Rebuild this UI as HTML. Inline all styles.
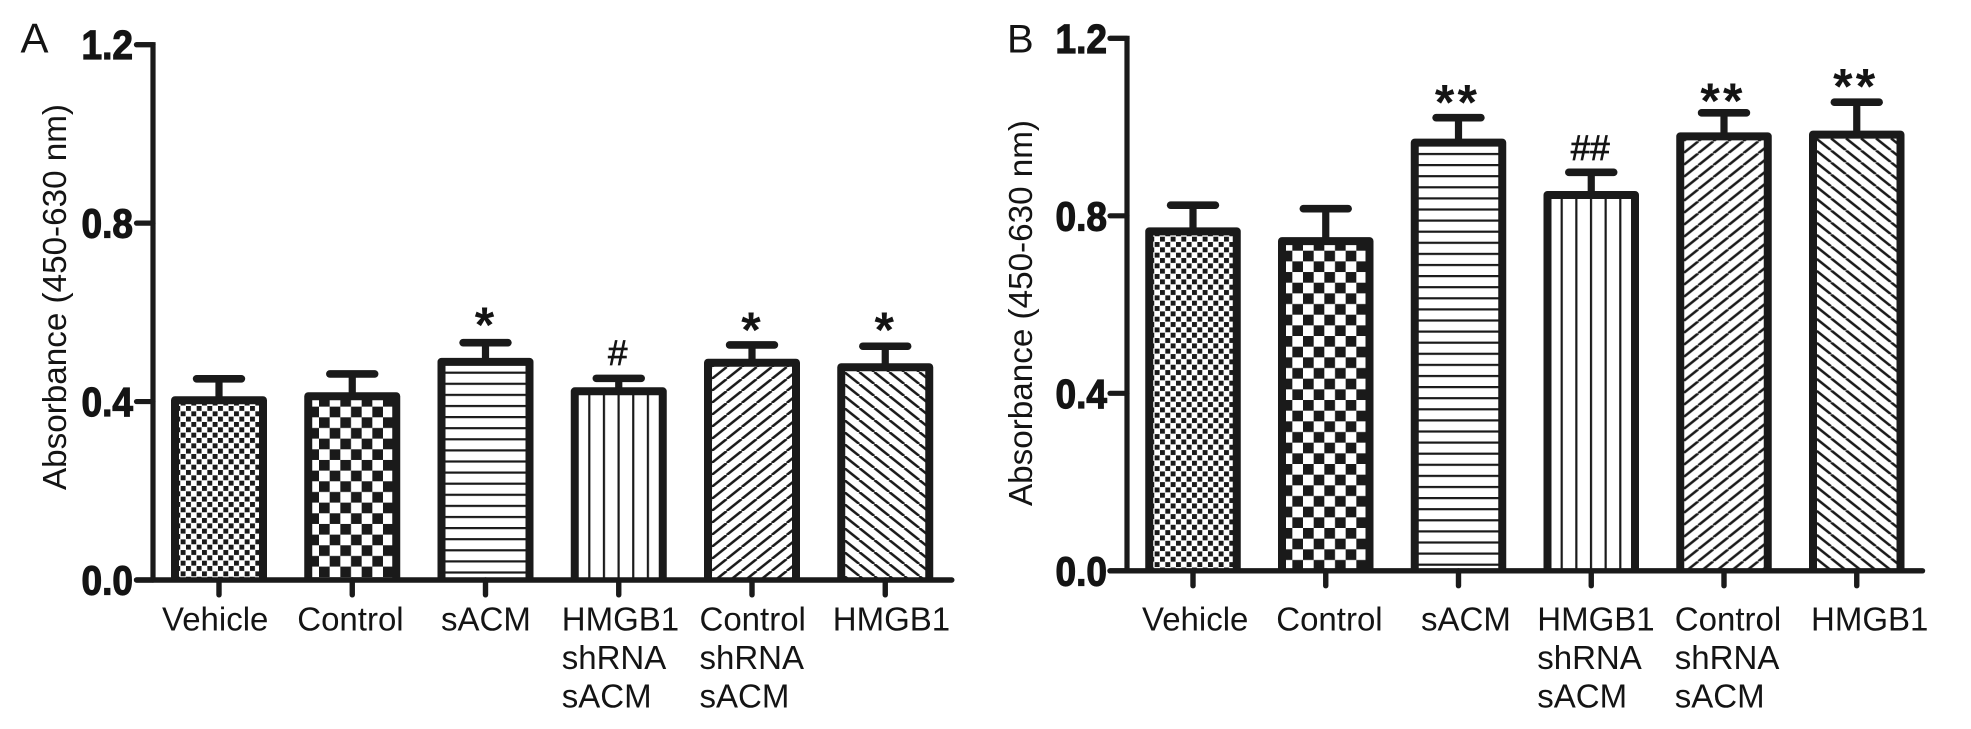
<!DOCTYPE html>
<html lang="en">
<head>
<meta charset="utf-8">
<title>Absorbance bar charts</title>
<style>
  html, body { margin: 0; padding: 0; background: #fff; }
  svg { display: block; font-family: "Liberation Sans", Arial, sans-serif; }
  text { fill: #141414; }
</style>
</head>
<body>
<svg id="figure" xmlns="http://www.w3.org/2000/svg" width="1971" height="729" viewBox="0 0 1971 729">
  <rect x="0" y="0" width="1971" height="729" fill="#fff"/>
  <defs id="pattern-defs"></defs>
  <text x="20.5" y="52.5" font-size="42">A</text>
  <text x="1007" y="52.5" font-size="40">B</text>
  <text transform="translate(66 490) rotate(-90)" font-size="33.5" textLength="386" lengthAdjust="spacingAndGlyphs">Absorbance (450-630 nm)</text>
  <text transform="translate(1032 506) rotate(-90)" font-size="33.5" textLength="386" lengthAdjust="spacingAndGlyphs">Absorbance (450-630 nm)</text>
  <g id="panel-a"></g>
  <g id="panel-b"></g>
</svg>
<script>
// ---- chart data ----
const categories = [
  ["Vehicle"],
  ["Control"],
  ["sACM"],
  ["HMGB1", "shRNA", "sACM"],
  ["Control", "shRNA", "sACM"],
  ["HMGB1"]
];
const patternKinds = ["fine-check", "coarse-check", "horizontal", "vertical", "diagonal-up", "diagonal-down"];
const tickValues = [0, 0.4, 0.8, 1.2];
const tickLabels = ["0.0", "0.4", "0.8", "1.2"];

const valuesA = [0.403, 0.412, 0.489, 0.423, 0.487, 0.477];
const errorsA = [0.048, 0.050, 0.043, 0.029, 0.040, 0.047];
const marksA = ["", "", "*", "#", "*", "*"];
const markHeightsA = [0, 0, 0.578, 0.510, 0.567, 0.567];

const valuesB = [0.765, 0.743, 0.965, 0.847, 0.979, 0.983];
const errorsB = [0.059, 0.073, 0.056, 0.051, 0.053, 0.073];
const marksB = ["", "", "**", "##", "**", "**"];
const markHeightsB = [0, 0, 1.062, 0.954, 1.066, 1.098];

// ---- layout (separate from the data) ----
const INK = "#1a1a1a";
const layoutA = {
  key: "a", host: "panel-a", axisX: 153, tickLeft: 136.5, xEnd: 951.8,
  y0: 580, yPerUnit: 446.1, firstBand: 219, bandStep: 133.25, barOuter: 96,
  tickBottom: 597.5, labelRight: 133,
  labelNudges: [-57, -55, -44.5, -57, -52.5, -52.5],
  origins: { fine: [186, 406], coarse: [319, 417.3], horizontal: 372.7, vertical: 589.3, up: [711.7, 367], down: [844.3, 372] }
};
const layoutB = {
  key: "b", host: "panel-b", axisX: 1127, tickLeft: 1110, xEnd: 1922.5,
  y0: 570.8, yPerUnit: 443.75, firstBand: 1193, bandStep: 132.75, barOuter: 95.5,
  tickBottom: 588.4, labelRight: 1107,
  labelNudges: [-51, -49.5, -37.5, -54, -49.2, -45.7],
  origins: { fine: [1160, 236.7], coarse: [1303, 250.7], horizontal: 154, vertical: 1561.7, up: [1683.3, 141.3], down: [1816, 138.3] }
};

const SVG_NS = "http://www.w3.org/2000/svg";
function make(tag, attrs, parent) {
  const el = document.createElementNS(SVG_NS, tag);
  for (const k in attrs) el.setAttribute(k, attrs[k]);
  parent.appendChild(el);
  return el;
}

const defs = document.getElementById("pattern-defs");

function addPattern(id, originX, originY, w, h) {
  const p = make("pattern", { id: id, patternUnits: "userSpaceOnUse", x: originX, y: originY, width: w, height: h }, defs);
  
  
  make("rect", { x: 0, y: 0, width: w, height: h, fill: "#fff" }, p);
  return p;
}

function buildPatterns(L) {
  const o = L.origins;
  let p = addPattern("fine-check-" + L.key, o.fine[0], o.fine[1], 10.67, 10.67);
  make("rect", { x: 0, y: 0, width: 4.9, height: 4.9, fill: INK }, p);
  make("rect", { x: 5.33, y: 5.33, width: 4.9, height: 4.9, fill: INK }, p);

  p = addPattern("coarse-check-" + L.key, o.coarse[0], o.coarse[1], 21.33, 21.33);
  make("rect", { x: 0, y: 0, width: 10.67, height: 10.67, fill: INK }, p);
  make("rect", { x: 10.67, y: 10.67, width: 10.67, height: 10.67, fill: INK }, p);

  p = addPattern("horizontal-" + L.key, 0, o.horizontal - 1.1, 10, 11.1);
  make("rect", { x: 0, y: 0, width: 10, height: 2.2, fill: INK }, p);

  p = addPattern("vertical-" + L.key, o.vertical - 1.1, 0, 14.65, 10);
  make("rect", { x: 0, y: 0, width: 2.2, height: 10, fill: INK }, p);

  const W = 15, H = 12;
  p = addPattern("diagonal-up-" + L.key, o.up[0], o.up[1], W, H);
  make("path", { d: `M${-W} ${H}L0 0M0 ${H}L${W} 0M${W} ${H}L${2 * W} 0`, stroke: INK, "stroke-width": 2.5, fill: "none" }, p);

  p = addPattern("diagonal-down-" + L.key, o.down[0], o.down[1], W, H);
  make("path", { d: `M${-W} 0L0 ${H}M0 0L${W} ${H}M${W} 0L${2 * W} ${H}`, stroke: INK, "stroke-width": 2.5, fill: "none" }, p);
}

function drawPanel(L, values, errors, marks, markHeights) {
  const host = document.getElementById(L.host);
  const y = v => L.y0 - v * L.yPerUnit;
  const x = i => L.firstBand + i * L.bandStep;
  const BORDER = 8, half = (L.barOuter - BORDER) / 2;

  // bars and error bars
  values.forEach((v, i) => {
    const cx = x(i), top = y(v), capY = y(v + errors[i]);
    const stem = make("line", { x1: cx, x2: cx, y1: top, y2: capY, stroke: INK, "stroke-width": 7.2 }, host);
    
    
    const cap = make("line", { x1: cx - 22.4, x2: cx + 22.4, y1: capY, y2: capY, stroke: INK, "stroke-width": 7.6, "stroke-linecap": "round" }, host);
    
    
    const bar = make("path", {
      d: `M${cx - half} ${L.y0}V${top}H${cx + half}V${L.y0}`,
      fill: `url(#${patternKinds[i]}-${L.key})`, stroke: INK, "stroke-width": BORDER, "stroke-linejoin": "round"
    }, host);
    
    

    if (marks[i]) {
      const isStar = marks[i].charAt(0) === "*";
      const my = y(markHeights[i]);
      const mark = make("text", {
        x: cx - 1, y: isStar ? my + 20 : my + 12.5, "text-anchor": "middle",
        "font-size": isStar ? 50 : 35, "font-weight": isStar ? "bold" : "normal",
        "letter-spacing": isStar && marks[i].length > 1 ? 3.2 : 0,
        stroke: isStar ? "none" : "#141414", "stroke-width": isStar ? 0 : 0.7
      }, host);
      
      
      mark.textContent = marks[i];
    }
  });

  // y axis
  const yAxis = make("path", {
    d: `M${L.tickLeft} ${y(tickValues[tickValues.length - 1])}H${L.axisX}V${L.y0}`,
    fill: "none", stroke: INK, "stroke-width": 5.2, "stroke-linecap": "round", "stroke-linejoin": "miter"
  }, host);
  
  

  tickValues.forEach((v, i) => {
    const t = make("line", { x1: L.tickLeft, x2: L.axisX, y1: y(v), y2: y(v), stroke: INK, "stroke-width": 5.2, "stroke-linecap": "round" }, host);
    
    
    const lab = make("text", {
      x: L.labelRight, y: y(v) + 14.5, "text-anchor": "end", "font-size": 41, "font-weight": "bold",
      textLength: 51.5, lengthAdjust: "spacingAndGlyphs", stroke: "#141414", "stroke-width": 1.2
    }, host);
    
    
    lab.textContent = tickLabels[i];
  });

  // x axis
  const xAxis = make("line", { x1: L.tickLeft, x2: L.xEnd, y1: L.y0, y2: L.y0, stroke: INK, "stroke-width": 5.4, "stroke-linecap": "round" }, host);
  
  

  categories.forEach((lines, i) => {
    const t = make("line", { x1: x(i), x2: x(i), y1: L.y0, y2: L.tickBottom - 2.7, stroke: INK, "stroke-width": 5.4, "stroke-linecap": "round" }, host);
    
    
    const label = make("text", { "font-size": 33 }, host);
    
    
    lines.forEach((line, j) => {
      const span = make("tspan", { x: x(i) + L.labelNudges[i], y: 630.5 + j * 38.4 }, label);
      span.textContent = line;
    });
  });
}

buildPatterns(layoutA);
buildPatterns(layoutB);
drawPanel(layoutA, valuesA, errorsA, marksA, markHeightsA);
drawPanel(layoutB, valuesB, errorsB, marksB, markHeightsB);
</script>
</body>
</html>
